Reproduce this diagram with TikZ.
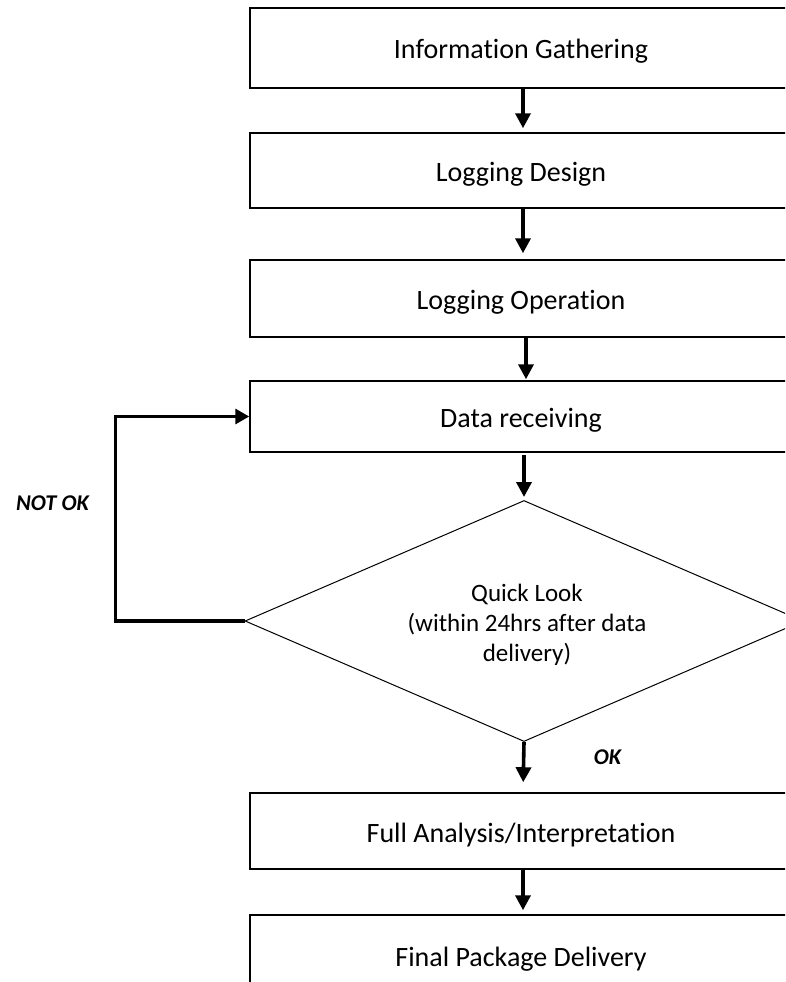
\documentclass[tikz,border=0pt]{standalone}
\usepackage{fontspec}
\setmainfont{Carlito}[Ligatures=NoCommon]
\usetikzlibrary{arrows.meta,shapes.geometric}

\tikzset{
  stepbox/.style={draw=black, line width=1.5pt, rectangle, minimum width=542pt,
    inner sep=0pt, text height=22pt, text depth=0pt,
    font=\fontsize{28}{34}\selectfont},
  decision/.style={draw=black, line width=1pt, diamond, aspect=2.31,
    minimum width=558pt, minimum height=241pt, inner sep=0pt},
  decisiontext/.style={align=center, inner sep=0pt,
    font=\fontsize{25}{30}\selectfont},
  flowarrow/.style={line width=3.6pt, -{Triangle[width=15pt,length=15pt]}},
  looparrow/.style={line width=3.2pt, line join=miter, -{Triangle[width=15pt,length=14pt]}},
  verdict/.style={font=\fontsize{22.5}{27}\selectfont\bfseries\itshape, inner sep=0pt}
}

\begin{document}
\begin{tikzpicture}[x=1pt, y=-1pt]
  \path[use as bounding box, clip] (0,0) rectangle (785,982);
  \fill[white] (0,0) rectangle (785,982);

  % process steps
  \node[stepbox, minimum height=80pt] (info)  at (521,48)    {Information Gathering};
  \node[stepbox, minimum height=75pt] (design) at (521,170.5) {Logging Design};
  \node[stepbox, minimum height=77pt] (oper)  at (521,298.5) {Logging Operation};
  \node[stepbox, minimum height=71pt] (recv)  at (521,416.5) {Data receiving};
  \node[decision] (quick) at (524,621) {};
  \node[decisiontext] (quicklabel) at (527,625) {Quick Look\\(within 24hrs after data\\delivery)};
  \node[stepbox, minimum height=76pt] (full)  at (521,831)   {Full Analysis/Interpretation};
  \node[stepbox, minimum height=80pt] (final) at (521,955)   {Final Package Delivery};

  % main flow
  \draw[flowarrow, shorten >=4pt] ([xshift=2pt]info.south)   -- ([xshift=2pt]design.north);
  \draw[flowarrow, shorten >=6pt] ([xshift=2pt]design.south) -- ([xshift=2pt]oper.north);
  \draw[flowarrow, shorten >=1pt] ([xshift=5pt]oper.south)   -- ([xshift=5pt]recv.north);
  \draw[flowarrow, shorten >=3pt, shorten <=2pt] ([xshift=3pt]recv.south) -- (quick.north);
  \draw[flowarrow, shorten >=10pt] (quick.south) -- ([xshift=2pt]full.north);
  \draw[flowarrow, shorten >=4pt] ([xshift=2pt]full.south)   -- ([xshift=2pt]final.north);

  % rework loop
  \draw[looparrow] (quick.west) -- ++(-129,0) |- (recv.west);

  % branch labels
  \node[verdict] (notok) at (52.5,503) {NOT OK};
  \node[verdict] (ok)    at (607.5,757) {OK};
\end{tikzpicture}
\end{document}
